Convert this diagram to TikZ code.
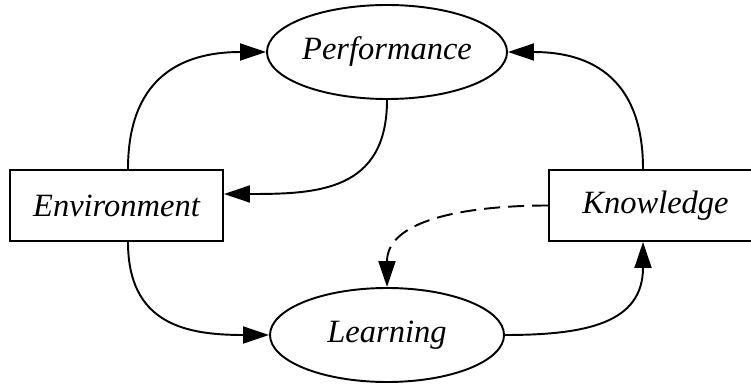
\documentclass[tikz,border=0pt]{standalone}
\usepackage{fontspec}
\setmainfont{Liberation Serif}
\usepackage{tikz}
\usetikzlibrary{positioning,shapes.geometric,arrows.meta}

\begin{document}
\begin{tikzpicture}[
    process/.style={ellipse, draw, line width=1.1pt, minimum width=4.68cm, minimum height=1.88cm, inner sep=0pt, font=\fontsize{18.5}{22}\selectfont\itshape},
    entity/.style={rectangle, draw, line width=1.1pt, minimum width=4.26cm, minimum height=1.42cm, inner sep=0pt, font=\fontsize{18.5}{22}\selectfont\itshape},
    arrow/.style={-{Triangle[length=0.52cm,width=0.34cm]}, line width=1.1pt, looseness=1.25},
    hint/.style={arrow, looseness=1, dash pattern=on 0.32cm off 0.16cm}
]
\useasboundingbox (0,0) rectangle (15.02,7.68);

% Processes
\node[process] (perf) at (7.74,6.64) {Performance};
\node[process] (learn) at (7.74,0.98) {Learning};

% Environment and knowledge
\node[entity] (env) at (2.33,3.57) {Environment};
\node[entity] (know) at (13.11,3.57) {Knowledge};

% Connections
\draw[arrow] ([xshift=0.23cm]env.north) to[out=90,in=180] (perf.west);
\draw[arrow] (perf.south) to[out=-90,in=0] ([yshift=0.23cm]env.east);
\draw[arrow] ([xshift=0.23cm]env.south) to[out=-90,in=180] (learn.west);
\draw[arrow] (learn.east) to[out=0,in=-90] ([xshift=-0.25cm]know.south);
\draw[arrow] ([xshift=-0.25cm]know.north) to[out=90,in=0] (perf.east);
\draw[hint] (know.west) to[out=180,in=90] (learn.north);

\end{tikzpicture}
\end{document}
